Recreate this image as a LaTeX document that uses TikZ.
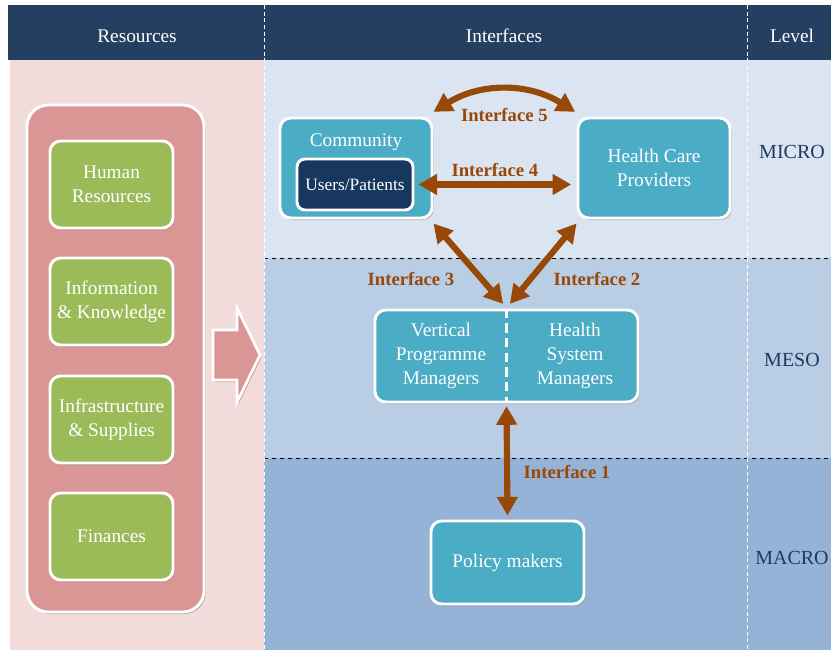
\documentclass[tikz,border=0pt]{standalone}
\usepackage{fontspec}
\setmainfont{Liberation Serif}
\usepackage{xcolor}
\usepackage{tikz}
\usetikzlibrary{arrows.meta, positioning, shadows}
\definecolor{headbar}{HTML}{243F60}
\definecolor{resbg}{HTML}{F2DCDB}
\definecolor{resbox}{HTML}{D99694}
\definecolor{resitem}{HTML}{9BBB59}
\definecolor{actor}{HTML}{4BACC6}
\definecolor{patient}{HTML}{17375E}
\definecolor{microbg}{HTML}{DBE5F1}
\definecolor{mesobg}{HTML}{B9CDE5}
\definecolor{macrobg}{HTML}{95B3D7}
\definecolor{link}{HTML}{984807}
\definecolor{leveltext}{HTML}{1F3A60}

\begin{document}
\begin{tikzpicture}[
    x=0.75pt, y=-0.75pt,
    box/.style={draw=white, line width=2.2pt, rounded corners=#1, align=center, text=white,
        font=\fontsize{14.5}{18}\selectfont, inner sep=2pt,
        drop shadow={shadow xshift=1.2pt, shadow yshift=-1.5pt, fill=black!45, opacity=0.6}},
    box/.default=8pt,
    item/.style={box, fill=resitem, minimum width=92.25pt, minimum height=65.25pt},
    actorbox/.style={box, fill=actor},
    iface/.style={<->, link, line width=4.6pt, >={Triangle[length=14pt, width=15pt]}},
    ifacelabel/.style={text=link, font=\fontsize{14}{16}\selectfont\bfseries},
    header/.style={text=white, font=\fontsize{14.5}{16}\selectfont},
    level/.style={text=leveltext, font=\fontsize{15}{16}\selectfont},
    divider/.style={white, densely dashed, line width=0.7pt},
]
    \useasboundingbox (0,0) rectangle (831,654);

    % Backgrounds
    \fill[resbg] (10,60) rectangle (264,650);
    \fill[microbg] (264,60) rectangle (831,258);
    \fill[mesobg] (264,258) rectangle (831,458);
    \fill[macrobg] (264,458) rectangle (831,650);
    \fill[headbar] (8,5) rectangle (831,60);
    \draw[black, dashed, line width=0.6pt] (264,258) -- (831,258);
    \draw[black, dashed, line width=0.6pt] (264,458) -- (831,458);
    \draw[divider] (264,5) -- (264,650);
    \draw[divider] (747,5) -- (747,650);

    % Column headers
    \node[header] (hres) at (137,36) {Resources};
    \node[header] (hint) at (504,36) {Interfaces};
    \node[header] (hlev) at (792,36) {Level};

    % Resources
    \node[box=16pt, fill=resbox, minimum width=132.75pt, minimum height=380.25pt] (res) at (115.5,358.5) {};
    \node[item] (hr) at (111.5,184.5) {Human\\Resources};
    \node[item] (info) at (111.5,301.5) {Information\\\& Knowledge};
    \node[item] (infra) at (111.5,419.5) {Infrastructure\\\& Supplies};
    \node[item] (fin) at (111.5,536.5) {Finances};

    % Block arrow into the interfaces
    \draw[fill=resbox, draw=white, line width=2pt,
        drop shadow={shadow xshift=1.2pt, shadow yshift=-1.5pt, fill=link!70, opacity=0.6}]
        (213,330) -- (237,330) -- (237,308) -- (260,355) -- (237,402) -- (237,380) -- (213,380) -- cycle;

    % Community
    \node[actorbox, minimum width=114pt, minimum height=75pt] (comm) at (356,168) {};
    \node[box=6pt, fill=patient, minimum width=87pt, minimum height=38.25pt,
        font=\fontsize{13}{16}\selectfont] (users) at (355,184.5) {Users/Patients};
    \node[text=white, font=\fontsize{14.5}{18}\selectfont, below=9.5pt of comm.north] (commtitle) {Community};

    % Health care providers
    \node[actorbox, minimum width=114pt, minimum height=75pt] (hcp) at (654,168) {Health Care\\Providers};

    % Managers
    \node[actorbox, minimum width=197.25pt, minimum height=69pt] (mgr) at (506.5,356) {};
    \node[text=white, align=center, font=\fontsize{14.5}{18}\selectfont] (vpm) at (441,356) {Vertical\\Programme\\Managers};
    \node[text=white, align=center, font=\fontsize{14.5}{18}\selectfont] (hsm) at (575,356) {Health\\System\\Managers};
    \draw[white, dashed, dash pattern=on 7pt off 4pt, line width=2pt] (mgr.north) -- (mgr.south);

    % Policy makers
    \node[actorbox, minimum width=114.75pt, minimum height=62.25pt] (pol) at (507.5,562.5) {Policy makers};

    % Interfaces
    \draw[iface] ([yshift=3.5pt]comm.north east) to[bend left=32] node[ifacelabel, below=8pt] (if5) {Interface 5} ([xshift=-1pt, yshift=3.5pt]hcp.north west);
    \draw[iface] ([xshift=3pt]users.east) -- node[ifacelabel, above=0pt] (if4) {Interface 4} ([xshift=-4pt]users.east -| hcp.west);
    \draw[iface] ([yshift=-3pt]comm.south east) -- ([xshift=-2.5pt, yshift=3.5pt]mgr.north);
    \draw[iface] ([yshift=-3pt]hcp.south west) -- ([xshift=2.5pt, yshift=3.5pt]mgr.north);
    \draw[iface] ([yshift=-2pt]mgr.south) -- ([yshift=3pt]pol.north);
    \node[ifacelabel] (if3) at (411,279) {Interface 3};
    \node[ifacelabel] (if2) at (597,279) {Interface 2};
    \node[ifacelabel] (if1) at (567,472) {Interface 1};

    % Levels
    \node[level] (micro) at (792,152) {MICRO};
    \node[level] (meso) at (792,360) {MESO};
    \node[level] (macro) at (792,558) {MACRO};
\end{tikzpicture}
\end{document}
